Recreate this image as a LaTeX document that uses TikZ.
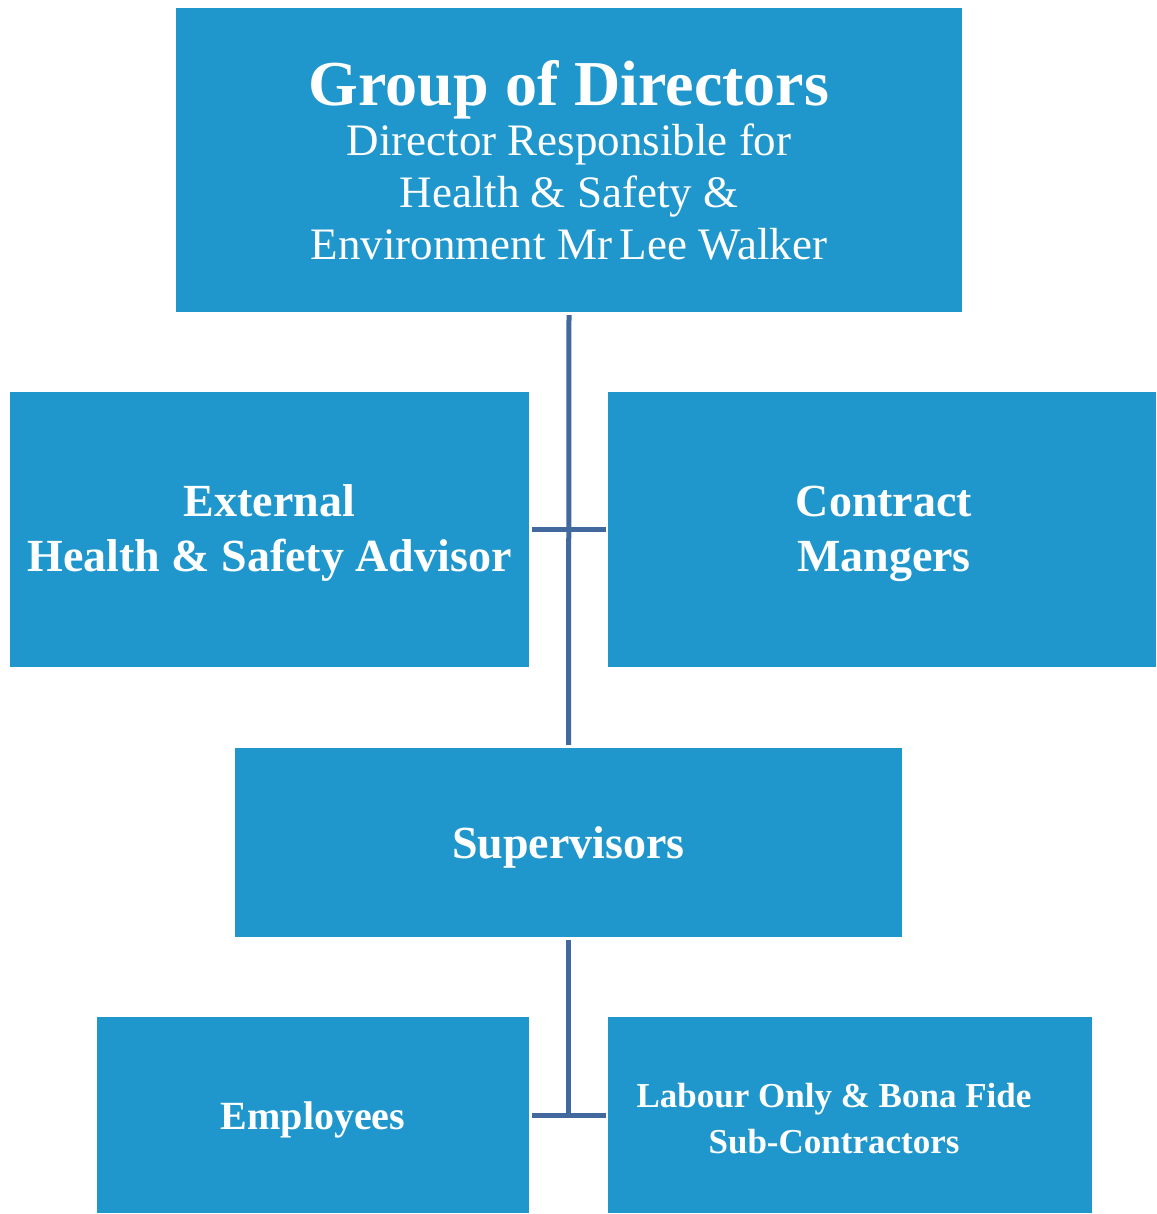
\documentclass[tikz,border=0pt]{standalone}
\usepackage{fontspec}
\setmainfont{Liberation Serif}
\definecolor{boxblue}{HTML}{1F97CC}
\definecolor{linkblue}{HTML}{41699E}
\begin{document}
\begin{tikzpicture}[x=1pt,y=-1pt,
  orgbox/.style={fill=boxblue, draw=none, inner sep=0pt, text=white, align=center},
  boxtext/.style={text=white, align=center, inner sep=0pt, anchor=base},
  link/.style={draw=linkblue, line width=5pt},
  midtext/.style={font=\fontsize{46}{55}\selectfont\bfseries}]
\useasboundingbox (0,0) rectangle (1156,1214);

% boxes: centre and size in pixel units
\node[orgbox, minimum width=786pt, minimum height=304pt,
      font=\fontsize{45}{52}\selectfont] (top) at (569,160)
  {{\fontsize{64}{57}\selectfont\bfseries Group of Directors}\\[-2pt]
   Director Responsible for\\ Health \& Safety \&\\ Environment Mr\,Lee Walker};
\node[orgbox, minimum width=519pt, minimum height=275pt] (ext) at (269.5,529.5) {};
\node[boxtext, midtext] (exttext) at (269.5,571) {External\\ Health \& Safety Advisor};
\node[orgbox, minimum width=548pt, minimum height=275pt] (con) at (882,529.5) {};
\node[boxtext, midtext] (context) at (884,571) {Contract\\ Mangers};
\node[orgbox, midtext, minimum width=667pt, minimum height=189pt,
      text height=40pt, text depth=9pt] (sup) at (568.5,842.5) {Supervisors};
\node[orgbox, minimum width=432pt, minimum height=196pt,
      text height=38pt, text depth=10pt,
      font=\fontsize{40}{46}\selectfont\bfseries] (emp) at (313,1115) {Employees};
\node[orgbox, minimum width=484pt, minimum height=196pt] (lab) at (850,1115) {};
\node[boxtext, font=\fontsize{35}{46}\selectfont\bfseries] (labtext) at (834,1153)
  {Labour Only \& Bona Fide\\ Sub-Contractors};

% connectors
\draw[link, shorten <=3pt, shorten >=3pt] (top.south) -- (sup.north);
\draw[link, shorten <=3pt, shorten >=2pt] (ext.east) -- (con.west);
\coordinate (junc) at (sup.south |- emp.east);
\draw[link, shorten <=3pt] (sup.south) -- (junc);
\draw[link, shorten <=3pt, shorten >=2pt] (emp.east) -- (lab.west);
\end{tikzpicture}
\end{document}
